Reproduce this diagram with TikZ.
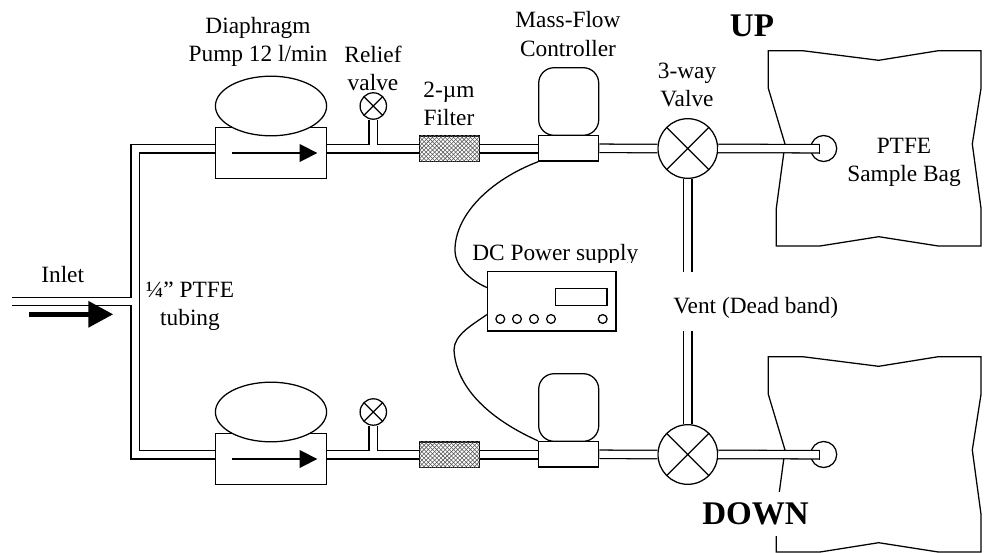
\documentclass[tikz,border=0pt]{standalone}
\usepackage{fontspec}
\setmainfont{Liberation Serif}
\usetikzlibrary{calc,patterns,shapes.geometric,arrows.meta}
\tikzset{
    lbl/.style={font=\fontsize{16.6}{20}\selectfont, align=center, inner sep=0pt},
    biglbl/.style={font=\fontsize{23.5}{26}\selectfont\bfseries, inner sep=0pt},
    box/.style={draw, fill=white, rectangle, inner sep=0pt},
    pumpbody/.style={box, minimum width=2.76cm, minimum height=1.27cm},
    pumphead/.style={draw, fill=white, ellipse, inner sep=0pt, minimum width=2.78cm, minimum height=1.49cm},
    filterbox/.style={draw, rectangle, inner sep=0pt, fill=white, postaction={pattern=crosshatch, pattern color=black!65}, minimum width=1.5cm, minimum height=0.64cm},
    mfcbody/.style={box, minimum width=1.5cm, minimum height=0.64cm},
    mfchead/.style={box, rounded corners=11pt, minimum width=1.5cm, minimum height=1.69cm},
    valve/.style={draw, fill=white, circle, inner sep=0pt, minimum size=1.49cm,
        path picture={\draw (path picture bounding box.north west) -- (path picture bounding box.south east)
            (path picture bounding box.north east) -- (path picture bounding box.south west);}},
    relief/.style={valve, minimum size=0.66cm},
    knob/.style={draw, circle, inner sep=0pt, minimum size=0.22cm},
    fitting/.style={draw, circle, inner sep=0pt, minimum size=0.65cm},
    tube/.style={double, double distance=5.1pt},
    flow/.style={-{Triangle[length=12.5pt,width=12.6pt]}},
    bigflow/.style={line width=3.8pt, -{Triangle[length=17.8pt,width=18pt]}}
}

\begin{document}
\begin{tikzpicture}[x=0.025cm, y=-0.025cm, line width=0.9pt]
    \useasboundingbox (0, 0) rectangle (1008, 553);

    % sample bags
    \draw (768.3, 50.7) -- (802.7, 50.7) -- (878.7, 60.3) -- (938.3, 50.7) -- (981, 50.7) -- (981, 88.3) -- (972.3, 144) -- (981, 208.3) -- (981, 246) -- (938.3, 246) -- (878.7, 236.7) -- (820, 246) -- (776.3, 246) -- (776.3, 208.3) -- (785, 144) -- (768.3, 88.3) -- cycle;
    \draw (768.3, 356.7) -- (802.7, 356.7) -- (878.7, 366.3) -- (938.3, 356.7) -- (981, 356.7) -- (981, 394.3) -- (972.3, 450) -- (981, 514.3) -- (981, 552) -- (938.3, 552) -- (878.7, 542.7) -- (820, 552) -- (776.3, 552) -- (776.3, 514.3) -- (785, 450) -- (768.3, 394.3) -- cycle;
    \node[biglbl, fill=white, minimum width=2.8cm, minimum height=1.1cm] (down) at (755.5, 514) {DOWN};
    \node[fitting] (portA) at (823.7, 148.5) {};
    \node[fitting] (portB) at (823.7, 454.5) {};

    % upper branch
    \node[pumpbody] (pumpA) at (271, 153) {};
    \node[pumphead] (headA) at (271, 106) {};
    \node[relief] (reliefA) at (373.3, 106) {};
    \node[filterbox] (filterA) at (449.5, 148.7) {};
    \node[mfcbody] (mfcA) at (568.7, 148.3) {};
    \node[mfchead] (ctrlA) at (568.7, 101.5) {};
    \node[valve] (valveA) at (687.8, 148.5) {};

    % lower branch
    \node[pumpbody] (pumpB) at (271, 459) {};
    \node[pumphead] (headB) at (271, 412) {};
    \node[relief] (reliefB) at (373.3, 412) {};
    \node[filterbox] (filterB) at (449.5, 454.7) {};
    \node[mfcbody] (mfcB) at (568.7, 454.3) {};
    \node[mfchead] (ctrlB) at (568.7, 407.5) {};
    \node[valve] (valveB) at (687.8, 454.5) {};

    % power supply
    \node[box, minimum width=3.21cm, minimum height=1.48cm] (supply) at (551.8, 301.3) {};
    \node[box, minimum width=1.28cm, minimum height=0.41cm] (display) at (581.3, 297) {};
    \node[knob] (knobA) at (500.3, 319) {};
    \node[knob] (knobB) at (517, 319) {};
    \node[knob] (knobC) at (534, 319) {};
    \node[knob] (knobD) at (551, 319) {};
    \node[knob] (knobE) at (602.7, 319) {};

    % tubing
    \coordinate (inlet) at (11.5, 301.5);
    \coordinate (tee) at (135.3, 301.5);
    \coordinate (ventA) at (687.8, 271.7);
    \coordinate (ventB) at (687.8, 331);
    \coordinate (endA) at (819.3, 148.7);
    \coordinate (endB) at (819.3, 454.7);
    \draw[tube] (inlet) -- (tee) (pumpA.west |- filterA.west) -| (tee) (pumpB.west |- filterB.west) -| (tee);
    \draw[tube] (pumpA.east |- filterA.west) -- (filterA.west) (reliefA.south) -- (reliefA.south |- filterA.west);
    \draw[tube] (pumpB.east |- filterB.west) -- (filterB.west) (reliefB.south) -- (reliefB.south |- filterB.west);
    \draw[tube] (filterA.east) -- (mfcA.west |- filterA.east);
    \draw[tube] (filterB.east) -- (mfcB.west |- filterB.east);
    \draw[tube] (mfcA.east) -- (valveA.west);
    \draw[tube] (mfcB.east) -- (valveB.west);
    \draw[tube] (valveA.east) -- (endA);
    \draw[tube] (valveB.east) -- (endB);
    \draw[tube] (valveA.south) -- (ventA);
    \draw[tube] (valveB.north) -- (ventB);
    \draw ($(endA)+(0, -5)$) -- ($(endA)+(0, 5)$);
    \draw ($(endB)+(0, -5)$) -- ($(endB)+(0, 5)$);

    % wires
    \draw (mfcA.south west) .. controls (490, 180) and (455, 215) .. (455, 250) .. controls (455, 268) and (472, 281) .. ($(supply.north west)+(0, 16.5)$);
    \draw ($(supply.north west)+(0, 43.5)$) .. controls (472, 325) and (454, 335) .. (454, 350) .. controls (456, 385) and (485, 417) .. (mfcB.north west);

    % flow arrows
    \coordinate (flowAa) at (232, 153);
    \coordinate (flowAb) at (317.3, 153);
    \coordinate (flowBa) at (232, 459);
    \coordinate (flowBb) at (317.3, 459);
    \coordinate (flowIa) at (29, 314.3);
    \coordinate (flowIb) at (113.3, 314.3);
    \draw[flow] (flowAa) -- (flowAb);
    \draw[flow] (flowBa) -- (flowBb);
    \draw[bigflow] (flowIa) -- (flowIb);

    % labels
    \node[lbl] (lblpump) at (258, 42) {Diaphragm\\Pump 12 l/min};
    \node[lbl] (lblrelief) at (373, 68) {Relief\\valve};
    \node[lbl] (lblfilter) at (449, 104) {2-µm\\Filter};
    \node[lbl] (lblmfc) at (568, 34) {Mass-Flow\\Controller};
    \node[lbl] (lblvalve) at (687, 85) {3-way\\Valve};
    \node[lbl] (lblbag) at (904, 162) {PTFE\\Sample Bag};
    \node[lbl] (lblinlet) at (62.7, 275) {Inlet};
    \node[lbl] (lbltube) at (190, 306) {¼” PTFE\\tubing};
    \node[lbl] (lblvent) at (755.7, 308) {Vent (Dead band)};
    \node[biglbl] (lblup) at (752, 26) {UP};
    \begin{scope}
        \clip (460, 235) rectangle (650, 262.5);
        \node[lbl] (lblsupply) at (555.3, 255) {DC Power supply};
    \end{scope}
\end{tikzpicture}
\end{document}
